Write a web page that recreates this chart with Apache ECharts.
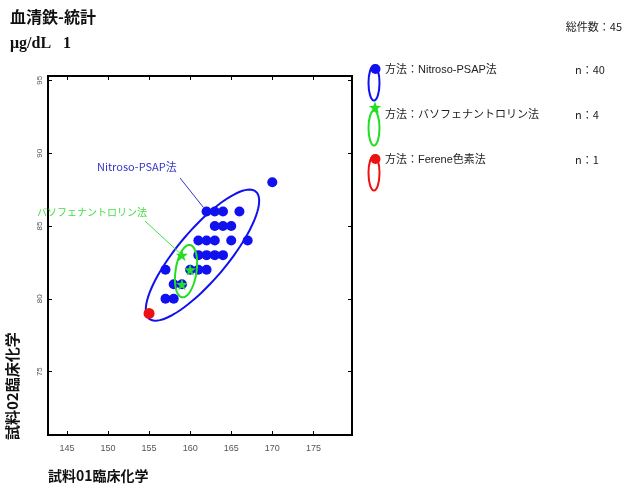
<!DOCTYPE html>
<html>
<head>
<meta charset="utf-8">
<script src="https://cdn.jsdelivr.net/npm/echarts@6/dist/echarts.min.js"></script>
<style>
  html, body { margin: 0; padding: 0; background: #fff; }
  #chart { width: 624px; height: 489px; }
</style>
</head>
<body>
<div id="chart"></div>
<script>
// 血清鉄 (serum iron) results: 試料01 vs 試料02, by method
const nitrosoPoints = [
  [162, 86], [163, 86], [164, 86], [166, 86],
  [163, 85], [164, 85], [165, 85],
  [161, 84], [162, 84], [163, 84], [165, 84], [167, 84],
  [161, 83], [162, 83], [163, 83], [164, 83],
  [157, 82], [160, 82], [161, 82], [162, 82],
  [158, 81], [159, 81],
  [157, 80], [158, 80],
  [170, 88]
];
const bathoPoints = [[159, 83], [160, 82], [159, 81]];
const ferenePoints = [[155, 79]];

// Ellipses: [center x, center y, half-range x, half-range y, correlation]
const nitrosoEllipse = [161.5, 83.0, 6.9, 4.5, 0.83];
const bathoEllipse = [159.5, 81.9, 1.35, 1.8, 0.3];

const xTicks = [145, 150, 155, 160, 165, 170, 175];
const yTicks = [75, 80, 85, 90, 95];
const xRange = [142.7, 179.7];
const yRange = [70.65, 95.3];

const methodNames = ['方法：Nitroso-PSAP法', '方法：バソフェナントロリン法', '方法：Ferene色素法'];
const methodCounts = ['n：40', 'n：4', 'n：1'];
const totalCount = '総件数：45';

const BLUE = '#1010f0';
const GREEN = '#22dd22';
const RED = '#ee1111';
const STAR = 'path://M50,0 L61,35 L98,35 L68,57 L79,91 L50,70 L21,91 L32,57 L2,35 L39,35 Z';
const CJK = '"Noto Sans CJK JP", "Liberation Serif", serif';
const SANS = '"Liberation Sans", "Noto Sans CJK JP", sans-serif';

const chart = echarts.init(document.getElementById('chart'), null, { renderer: 'canvas' });

function ellipseRenderer(color) {
  return function (params, api) {
    const cx = api.value(0), cy = api.value(1);
    const rx = api.value(2), ry = api.value(3), r = api.value(4);
    const s = Math.sqrt(1 - r * r);
    const pts = [];
    for (let i = 0; i <= 96; i++) {
      const t = (i / 96) * Math.PI * 2;
      pts.push(api.coord([cx + rx * Math.cos(t), cy + ry * (r * Math.cos(t) - s * Math.sin(t))]));
    }
    return {
      type: 'polyline',
      shape: { points: pts },
      style: { fill: null, stroke: color, lineWidth: 2 }
    };
  };
}

function axisPair(dir, range, ticks, labelOpts) {
  const common = {
    type: 'value', min: range[0], max: range[1],
    axisLine: { show: false },
    splitLine: { show: false },
    axisTick: { show: true, inside: true, length: 4, customValues: ticks, lineStyle: { color: '#000', width: 1 } }
  };
  return [
    Object.assign({}, common, {
      position: dir === 'x' ? 'bottom' : 'left',
      axisLabel: Object.assign({ customValues: ticks, color: '#555', fontFamily: SANS }, labelOpts)
    }),
    Object.assign({}, common, {
      position: dir === 'x' ? 'top' : 'right',
      axisLabel: { show: false }
    })
  ];
}

// Five-point star outline around (cx, cy)
function starPoints(cx, cy, R) {
  const pts = [];
  for (let k = 0; k < 10; k++) {
    const a = -Math.PI / 2 + k * Math.PI / 5;
    const rr = k % 2 === 0 ? R : R * 0.42;
    pts.push([cx + rr * Math.cos(a), cy + rr * Math.sin(a)]);
  }
  return pts;
}

const legendY = [72, 117, 162];
const legendColors = [BLUE, GREEN, RED];
const legendGraphics = [];
legendY.forEach((y, i) => {
  legendGraphics.push({
    type: 'ellipse', shape: { cx: 374, cy: y + 11, rx: 5.5, ry: 17.5 },
    style: { fill: null, stroke: legendColors[i], lineWidth: 2 }, z: 10
  });
  if (i === 1) {
    legendGraphics.push({
      type: 'polygon', shape: { points: starPoints(375, y - 9, 6.5) },
      style: { fill: GREEN }, z: 11
    });
  } else {
    legendGraphics.push({
      type: 'circle', shape: { cx: 375.5, cy: y - 3, r: 5 },
      style: { fill: legendColors[i] }, z: 11
    });
  }
  legendGraphics.push({
    type: 'text', x: 385, y: y - 8,
    style: { text: methodNames[i], font: '11px ' + SANS, fill: '#222' }
  });
  legendGraphics.push({
    type: 'text', x: 575, y: y - 8,
    style: { text: methodCounts[i], font: '11px ' + CJK, fill: '#222' }
  });
});

const xAxes = axisPair('x', xRange, xTicks, { margin: 9, fontSize: 9 });
const yAxes = axisPair('y', yRange, yTicks, { margin: 4, fontSize: 8, rotate: 90 });

chart.setOption({
  animation: false,
  backgroundColor: '#fff',
  grid: {
    left: 48, right: 272, top: 76, bottom: 54,
    show: true, borderColor: '#000', borderWidth: 2, backgroundColor: '#fff'
  },
  xAxis: xAxes,
  yAxis: yAxes,
  series: [
    {
      name: 'Nitroso-PSAP法', type: 'scatter', data: nitrosoPoints,
      symbol: 'circle', symbolSize: 10, itemStyle: { color: BLUE, opacity: 1 }, z: 2
    },
    {
      type: 'custom', data: [nitrosoEllipse], encode: { x: 0, y: 1 },
      renderItem: ellipseRenderer(BLUE), z: 3, silent: true
    },
    {
      type: 'custom', data: [bathoEllipse], encode: { x: 0, y: 1 },
      renderItem: ellipseRenderer(GREEN), z: 4, silent: true
    },
    {
      name: 'バソフェナントロリン法', type: 'scatter', data: bathoPoints,
      symbol: STAR, symbolSize: 12, itemStyle: { color: GREEN, opacity: 1 }, z: 5
    },
    {
      name: 'Ferene色素法', type: 'scatter', data: ferenePoints,
      symbol: 'circle', symbolSize: 11, itemStyle: { color: RED, opacity: 1 }, z: 6
    }
  ]
});

// Leader lines from the method labels to the marks they describe
function leader(textX, textY, label, color, size, from, target, backoff) {
  const p = chart.convertToPixel({ seriesIndex: 0 }, target);
  const dx = from[0] - p[0], dy = from[1] - p[1];
  const len = Math.sqrt(dx * dx + dy * dy);
  const end = [p[0] + dx / len * backoff, p[1] + dy / len * backoff];
  return [
    { type: 'text', x: textX, y: textY,
      style: { text: label, font: size + 'px "Noto Sans CJK JP", sans-serif', fill: color } },
    { type: 'line', shape: { x1: from[0], y1: from[1], x2: end[0], y2: end[1] },
      style: { stroke: color, lineWidth: 1 }, z: 20 }
  ];
}

const annotations = []
  .concat(leader(97, 161, 'Nitroso-PSAP法', '#3535cc', 11, [180, 178], nitrosoPoints[0], 5))
  .concat(leader(37, 207, 'バソフェナントロリン法', '#44dd44', 10, [145, 221], bathoPoints[0], 0));

chart.setOption({
  graphic: [
    { type: 'text', x: 10, y: 9,
      style: { text: '血清鉄-統計', font: 'bold 16px ' + CJK, fill: '#111' } },
    { type: 'text', x: 10, y: 36,
      style: { text: 'μg/dL   1', font: 'bold 16px "Liberation Serif", serif', fill: '#111' } },
    { type: 'text', x: 622, y: 21,
      style: { text: totalCount, font: '11px ' + CJK, fill: '#222', align: 'right' } },
    { type: 'text', x: 48, y: 469,
      style: { text: '試料01臨床化学', font: 'bold 14px ' + CJK, fill: '#111' } },
    { type: 'text', x: 5, y: 440, rotation: Math.PI / 2,
      style: { text: '試料02臨床化学', font: 'bold 15px ' + CJK, fill: '#111', align: 'left', verticalAlign: 'top' } }
  ].concat(legendGraphics, annotations)
});
</script>
</body>
</html>
